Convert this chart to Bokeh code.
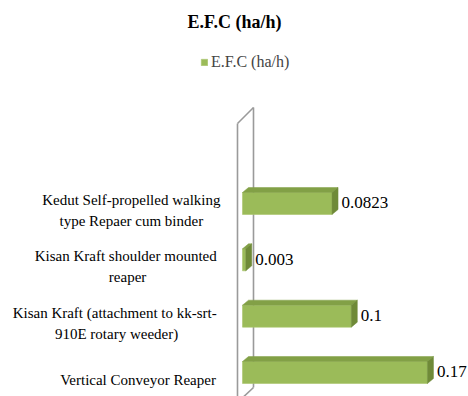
from bokeh.plotting import figure
from bokeh.models import Range1d, Legend, LegendItem, ColumnDataSource
from bokeh.core.properties import value
from bokeh.embed import file_html
from bokeh.resources import INLINE

# ---- data ----
categories = [
    "Kedut Self-propelled walking\ntype Repaer cum binder",
    "Kisan Kraft  shoulder mounted\nreaper",
    "Kisan Kraft  (attachment to kk-srt-\n910E rotary weeder)",
    "Vertical  Conveyor Reaper",
]
values = [0.0823, 0.003, 0.1, 0.17]
value_labels = ["0.0823", "0.003", "0.1", "0.17"]
series_name = "E.F.C (ha/h)"
title_text = "E.F.C (ha/h)"

# ---- layout constants (pixels) ----
W, H = 468, 396
TOP = 31            # frame top (below title)
X0_PX = 242         # pixel of value 0
PX_PER_UNIT = 1088  # pixels per 1.0 of value
Y_BOTTOM_BAR_PX = 372
ROW_PX = 56.33
BAR_PX = 22
DEPTH_X, DEPTH_Y = 6, 5   # 3D offset in px

FRONT = "#9BBB59"
TOPC = "#82A046"
SIDE = "#6F8A38"
SERIF = "Liberation Serif"

n = len(categories)
pos = [n - 1 - i for i in range(n)]  # top-to-bottom order

x_start = -X0_PX / PX_PER_UNIT
x_end = (W - X0_PX) / PX_PER_UNIT
y_end = (Y_BOTTOM_BAR_PX - TOP) / ROW_PX
y_start = (Y_BOTTOM_BAR_PX - H) / ROW_PX

dx = DEPTH_X / PX_PER_UNIT
dy = DEPTH_Y / ROW_PX
hh = BAR_PX / ROW_PX / 2

p = figure(width=W, height=H, output_backend="svg", toolbar_location=None,
           x_range=Range1d(x_start, x_end), y_range=Range1d(y_start, y_end),
           min_border=0, min_border_top=TOP, min_border_left=0,
           min_border_right=0, min_border_bottom=0)
p.title.text = title_text
p.title.align = "center"
p.title.offset = 11
p.title.text_font = SERIF
p.title.text_font_size = "18px"
p.title.text_font_style = "bold"
p.title.text_color = "black"
p.title.standoff = 0
p.axis.visible = False
p.grid.visible = False
p.outline_line_color = None
p.background_fill_color = "white"
p.border_fill_color = "white"

# ---- back wall (3D) ----
wl = -5 / PX_PER_UNIT
wr = 11 / PX_PER_UNIT
w_top_left = (Y_BOTTOM_BAR_PX - 123) / ROW_PX
w_top_right = (Y_BOTTOM_BAR_PX - 107) / ROW_PX
w_bot_right = (Y_BOTTOM_BAR_PX - 387) / ROW_PX
w_bot_left = (Y_BOTTOM_BAR_PX - 402) / ROW_PX
p.multi_line(xs=[[wl, wl], [wl, wr], [wr, wr], [wr, wl]],
             ys=[[w_top_left, w_bot_left], [w_top_left, w_top_right],
                 [w_top_right, w_bot_right], [w_bot_right, w_bot_left]],
             line_color="#9A9A9A", line_width=1.6)

# ---- bars ----
src = ColumnDataSource(dict(
    y=pos, v=values, bottom=[q - hh for q in pos], top=[q + hh for q in pos]))
front = p.quad(left=0, right="v", bottom="bottom", top="top", source=src,
               fill_color=FRONT, line_color="#A9C46C", line_width=0.6)

top_xs, top_ys, side_xs, side_ys = [], [], [], []
for q, v in zip(pos, values):
    t, b = q + hh, q - hh
    top_xs.append([0, v, v + dx, dx])
    top_ys.append([t, t, t + dy, t + dy])
    side_xs.append([v, v + dx, v + dx, v])
    side_ys.append([b, b + dy, t + dy, t])
p.patches(top_xs, top_ys, fill_color=TOPC, line_color=TOPC, line_width=0.5)
p.patches(side_xs, side_ys, fill_color=SIDE, line_color=SIDE, line_width=0.5)

# value labels
p.text(x=[v + dx + 3.5 / PX_PER_UNIT for v in values], y=[q + 0.01 for q in pos],
       text=value_labels, text_font=value(SERIF), text_font_size="17px",
       text_align="left", text_baseline="middle", text_color="black")

# ---- category labels (centered lines, block right-aligned) ----
TNR = {' ': 250, '(': 333, ')': 333, '-': 333, '.': 250, '/': 278}
for ch in "0123456789":
    TNR[ch] = 500
TNR.update(dict(zip("ABCDEFGHIJKLMNOPQRSTUVWXYZ",
    [722, 667, 667, 722, 611, 556, 722, 722, 333, 389, 722, 611, 889, 722,
     722, 556, 722, 667, 556, 611, 722, 722, 944, 722, 722, 611])))
TNR.update(dict(zip("abcdefghijklmnopqrstuvwxyz",
    [444, 500, 444, 500, 444, 333, 500, 500, 278, 278, 500, 278, 778, 500,
     500, 500, 500, 333, 389, 278, 500, 500, 722, 500, 500, 444])))
CAT_FS = 15
LABEL_RIGHT_PX = 220
LINE_PX = 21
LABEL_SHIFT_PX = 7


def text_w(s):
    return sum(TNR.get(c, 500) for c in s) / 1000 * CAT_FS


lx, ly, lt = [], [], []
for cat, q in zip(categories, pos):
    lines = cat.split("\n")
    bw = max(text_w(s) for s in lines)
    cx_px = LABEL_RIGHT_PX - bw / 2
    k = len(lines)
    for j, s in enumerate(lines):
        off_px = LABEL_SHIFT_PX + (j - (k - 1) / 2) * LINE_PX
        lx.append((cx_px - X0_PX) / PX_PER_UNIT)
        ly.append(q - off_px / ROW_PX)
        lt.append(s)
p.text(x=lx, y=ly, text=lt, text_font=value(SERIF),
       text_font_size=f"{CAT_FS}px", text_align="center",
       text_baseline="middle", text_color="black")

# ---- legend ----
legend = Legend(items=[LegendItem(label=series_name, renderers=[front])],
                location=(200, H - 72), orientation="horizontal",
                label_text_font=SERIF, label_text_font_size="16px",
                glyph_width=8, glyph_height=8, label_standoff=3,
                padding=0, margin=0, spacing=0, label_height=20,
                border_line_color=None, background_fill_alpha=0)
p.add_layout(legend)

open("out.html", "w").write(file_html(p, INLINE))
